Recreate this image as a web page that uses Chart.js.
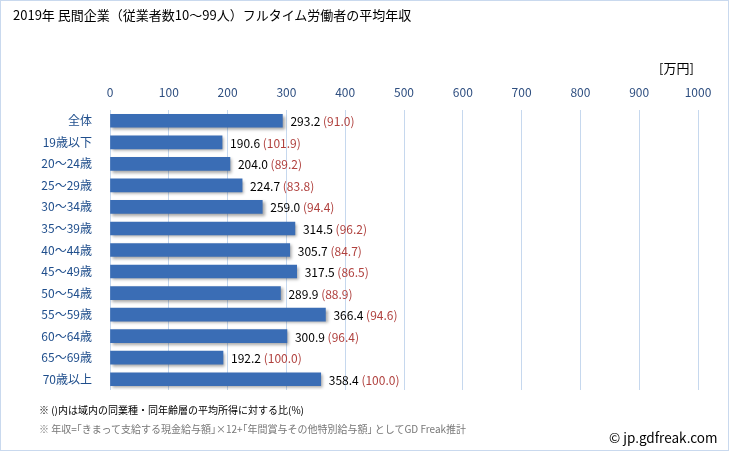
<!DOCTYPE html>
<html>
<head>
<meta charset="utf-8">
<script src="https://cdn.jsdelivr.net/npm/chart.js@4/dist/chart.umd.min.js"></script>
<style>
  html, body { margin: 0; padding: 0; background: #fff; }
  #wrap { position: relative; width: 729px; height: 451px; box-sizing: border-box; border: 1px solid #c9d9ee; }
  #chart { position: absolute; left: 0; top: 0; }
  .txt { position: absolute; font-family: "Noto Sans CJK JP", sans-serif; white-space: nowrap; }
</style>
</head>
<body>
<div id="wrap">
  <canvas id="chart" width="729" height="451"></canvas>
  <div class="txt" style="left:12px;top:4px;font-size:13px;color:#000;">2019年 民間企業（従業者数10～99人）フルタイム労働者の平均年収</div>
  <div class="txt" style="left:658px;top:57px;font-size:13px;color:#000;">[万円]</div>
  <div class="txt" style="left:38px;top:401px;font-size:10px;color:#000;">※ ()内は域内の同業種・同年齢層の平均所得に対する比(%)</div>
  <div class="txt" style="left:38px;top:420px;font-size:10px;color:#777;">※ 年収=｢きまって支給する現金給与額｣×12+｢年間賞与その他特別給与額｣ としてGD Freak推計</div>
  <div class="txt" style="left:608px;top:426px;font-size:13.5px;color:#000;">© jp.gdfreak.com</div>
</div>
<script>
// カテゴリ・値
const categories = ['全体', '19歳以下', '20～24歳', '25～29歳', '30～34歳', '35～39歳', '40～44歳',
  '45～49歳', '50～54歳', '55～59歳', '60～64歳', '65～69歳', '70歳以上'];
const salaries = [293.2, 190.6, 204.0, 224.7, 259.0, 314.5, 305.7, 317.5, 289.9, 366.4, 300.9, 192.2, 358.4];
const ratios = [91.0, 101.9, 89.2, 83.8, 94.4, 96.2, 84.7, 86.5, 88.9, 94.6, 96.4, 100.0, 100.0];
const xTicks = [0, 100, 200, 300, 400, 500, 600, 700, 800, 900, 1000];

const FONT = '"Noto Sans CJK JP", sans-serif';

// バーのグラデーション
function barFill(context) {
  const chart = context.chart;
  const el = context.element;
  if (!el || el.y === undefined) return '#3a6db5';
  const h = el.height || 13;
  const g = chart.ctx.createLinearGradient(0, el.y - h / 2, 0, el.y + h / 2);
  g.addColorStop(0, '#5a8fd6');
  g.addColorStop(0.45, '#3a6fbe');
  g.addColorStop(1, '#2a5797');
  return g;
}

// 影とラベル
const barExtras = {
  id: 'barExtras',
  beforeDatasetDraw(chart) {
    const ctx = chart.ctx;
    ctx.save();
    ctx.shadowColor = 'rgba(0,0,0,0.35)';
    ctx.shadowOffsetX = 2;
    ctx.shadowOffsetY = 2;
    ctx.shadowBlur = 3;
  },
  afterDatasetDraw(chart) {
    const ctx = chart.ctx;
    ctx.restore();
    const meta = chart.getDatasetMeta(0);
    ctx.save();
    ctx.font = '12px ' + FONT;
    ctx.textBaseline = 'middle';
    meta.data.forEach(function(bar, i) {
      const v = salaries[i].toFixed(1) + ' ';
      const r = '(' + ratios[i].toFixed(1) + ')';
      let x = bar.x + 8;
      ctx.fillStyle = '#000';
      ctx.fillText(v, x, bar.y + 1);
      x += ctx.measureText(v).width;
      ctx.fillStyle = '#b0413e';
      ctx.fillText(r, x, bar.y + 1);
    });
    ctx.restore();
  }
};

new Chart(document.getElementById('chart'), {
  type: 'bar',
  data: {
    labels: categories,
    datasets: [{
      data: salaries,
      backgroundColor: barFill,
      borderWidth: 0,
      barThickness: 13
    }]
  },
  options: {
    indexAxis: 'y',
    responsive: false,
    animation: false,
    layout: { padding: { top: 80, right: 32, bottom: 62, left: 0 } },
    plugins: { legend: { display: false }, tooltip: { enabled: false } },
    scales: {
      x: {
        position: 'top',
        min: 0,
        max: 1000,
        afterBuildTicks(scale) { scale.ticks = xTicks.map(v => ({ value: v })); },
        afterFit(scale) { scale.height = 29; },
        grid: { color: '#c6d8ee', drawTicks: false },
        border: { display: false },
        ticks: { color: '#2f4f80', font: { family: FONT, size: 12 }, padding: 10, callback: v => String(v) }
      },
      y: {
        afterFit(scale) { scale.width = 109; },
        grid: { display: false },
        border: { display: false },
        ticks: { color: '#1f4e8c', font: { family: FONT, size: 12 }, padding: 10 }
      }
    }
  },
  plugins: [barExtras]
});
</script>
</body>
</html>
